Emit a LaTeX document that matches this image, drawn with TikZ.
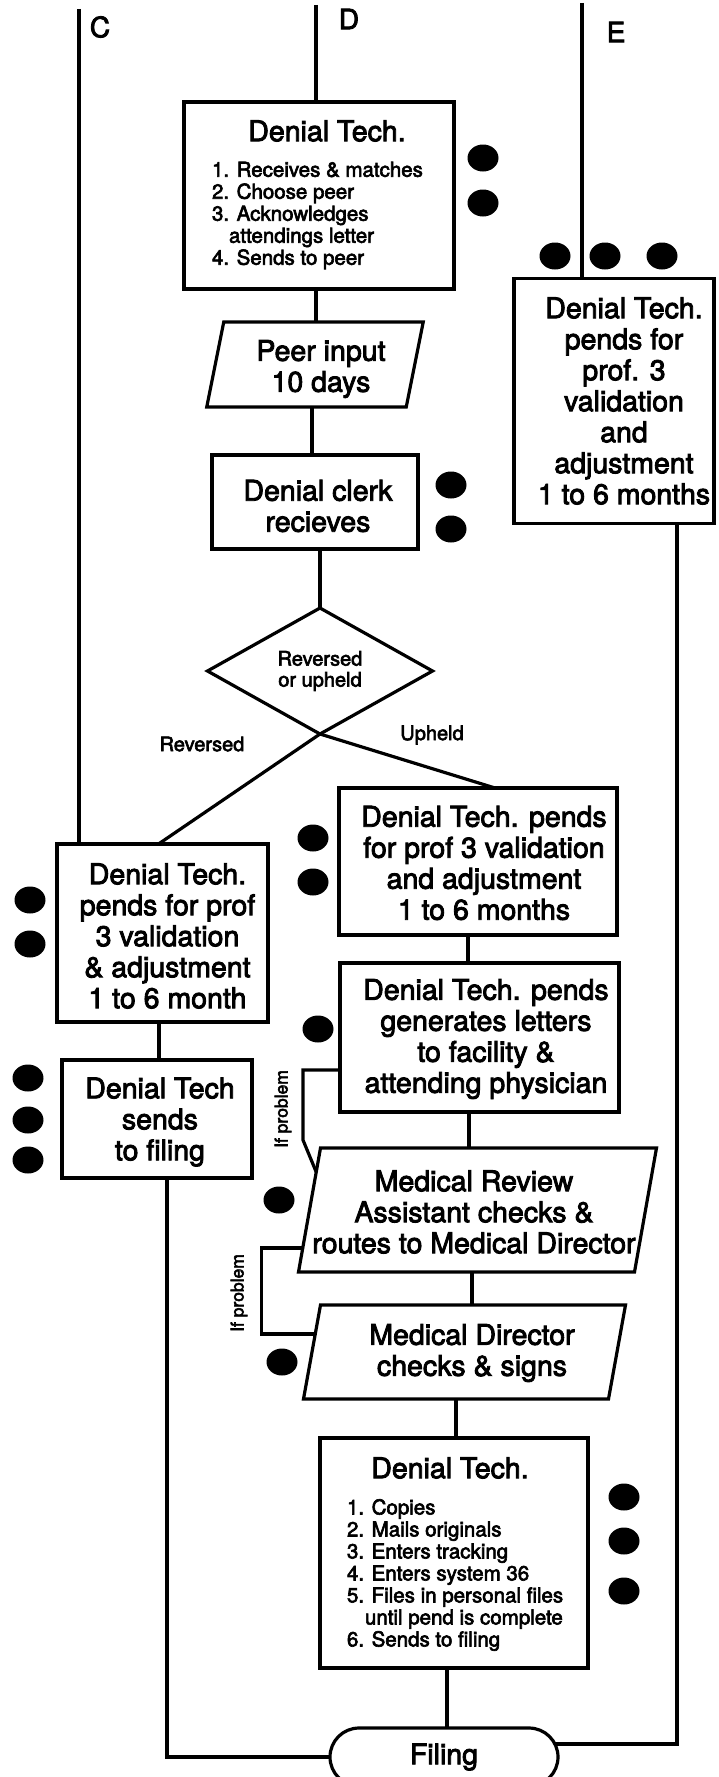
\documentclass[tikz,border=0pt]{standalone}
\usepackage{fontspec}
\setmainfont{TeX Gyre Heros}
\newfontfamily\heavy[FakeBold=3]{TeX Gyre Heros}
\usetikzlibrary{shapes.geometric,calc}

\begin{document}
\begin{tikzpicture}[x=1pt,y=-1pt,
  line width=3.2pt,
  every node/.style={inner sep=0pt, outer sep=0pt},
  stepbox/.style={draw, rectangle},
  ghost/.style={rectangle, draw=none},
  txt/.style={align=center, font=\heavy\fontsize{28.5}{31}\selectfont},
  listtxt/.style={align=left, font=\heavy\fontsize{20.5}{22}\selectfont},
  small/.style={align=center, font=\heavy\fontsize{20}{21}\selectfont},
  sidelabel/.style={font=\heavy\fontsize{17.5}{18}\selectfont, rotate=90},
  lane/.style={font=\heavy\fontsize{28}{30}\selectfont},
  dot/.style={ellipse, fill=black, draw=none, minimum width=31pt, minimum height=27pt},
]
\fill[white] (0,0) rectangle (719,1777);
\useasboundingbox (0,0) rectangle (719,1777);

% ---- swim-lane lines and letters
\coordinate (Ctop) at (79,9);
\coordinate (Dtop) at (316,5);
\coordinate (Etop) at (582,3);
\node[lane] (labC) at (100,27) {C};
\node[lane] (labD) at (349,19) {D};
\node[lane] (labE) at (616,32) {E};

% ---- first Denial Tech. box
\node[stepbox, minimum width=270pt, minimum height=187pt] (tech1) at (319,195.5) {};
\node[txt] (tech1title) at (327,131) {Denial Tech.};
\node[listtxt, anchor=west] (tech1list) at (212,215.5)
  {1. Receives \& matches\\2. Choose peer\\3. Acknowledges\\\hspace*{17pt}attendings letter\\4. Sends to peer};

% ---- lane E box
\node[stepbox, minimum width=200pt, minimum height=245pt] (ebox) at (614,401) {};
\node[txt] (eboxtext) at (624,401)
  {Denial Tech.\\pends for\\prof. 3\\validation\\and\\adjustment\\1 to 6 months};

% ---- peer input (parallelogram)
\node[ghost, minimum width=199.5pt, minimum height=85pt] (peer) at (315,364.5) {};
\coordinate (peerTL) at ($(peer.north west)+(8.5,0)$);
\coordinate (peerTR) at ($(peer.north east)+(8.5,0)$);
\coordinate (peerBR) at ($(peer.south east)+(-8.5,0)$);
\coordinate (peerBL) at ($(peer.south west)+(-8.5,0)$);
\draw (peerTL) -- (peerTR) -- (peerBR) -- (peerBL) -- cycle;
\node[txt] (peertext) at (321,369) {Peer input\\10 days};

% ---- denial clerk
\node[stepbox, minimum width=206pt, minimum height=94pt] (clerk) at (315,502) {};
\node[txt] (clerktext) at (318,506) {Denial clerk\\recieves};

% ---- decision
\node[diamond, draw, aspect=1.78, minimum width=225pt, minimum height=126pt, small]
  (dec) at (320,671) {Reversed\\or upheld};
\node[small] (revlab) at (202,744) {Reversed};
\node[small] (uplab) at (432,735) {Upheld};

% ---- reversed branch
\node[stepbox, minimum width=211pt, minimum height=178pt] (lbox) at (162.5,933) {};
\node[txt] (lboxtext) at (167.5,936)
  {Denial Tech.\\pends for prof\\3 validation\\\& adjustment\\1 to 6 month};
\node[stepbox, minimum width=190pt, minimum height=118pt] (sends) at (157,1119) {};
\node[txt] (sendstext) at (160,1122) {Denial Tech\\sends\\to filing};

% ---- upheld branch
\node[stepbox, minimum width=278pt, minimum height=147pt] (up) at (478,861.5) {};
\node[txt] (uptext) at (484,863)
  {Denial Tech. pends\\for prof 3 validation\\and adjustment\\1 to 6 months};
\node[stepbox, minimum width=279pt, minimum height=149pt] (gen) at (479.5,1037.5) {};
\node[txt] (gentext) at (486,1039)
  {Denial Tech. pends\\generates letters\\to facility \&\\attending physician};

% ---- medical review (parallelogram)
\node[ghost, minimum width=336pt, minimum height=124pt] (mr) at (477.5,1210) {};
\coordinate (mrTL) at ($(mr.north west)+(11,0)$);
\coordinate (mrTR) at ($(mr.north east)+(11,0)$);
\coordinate (mrBR) at ($(mr.south east)+(-11,0)$);
\coordinate (mrBL) at ($(mr.south west)+(-11,0)$);
\draw (mrTL) -- (mrTR) -- (mrBR) -- (mrBL) -- cycle;
\node[txt] (mrtext) at (474,1212)
  {Medical Review\\Assistant checks \&\\routes to Medical Director};

% ---- medical director (parallelogram)
\node[ghost, minimum width=305pt, minimum height=94pt] (md) at (464.5,1352) {};
\coordinate (mdTL) at ($(md.north west)+(8.5,0)$);
\coordinate (mdTR) at ($(md.north east)+(8.5,0)$);
\coordinate (mdBR) at ($(md.south east)+(-8.5,0)$);
\coordinate (mdBL) at ($(md.south west)+(-8.5,0)$);
\draw (mdTL) -- (mdTR) -- (mdBR) -- (mdBL) -- cycle;
\node[txt] (mdtext) at (472,1353) {Medical Director\\checks \& signs};

% ---- last Denial Tech. box
\node[stepbox, minimum width=268pt, minimum height=230pt] (tech2) at (454,1553) {};
\node[txt] (tech2title) at (450,1468) {Denial Tech.};
\node[listtxt, anchor=west] (tech2list) at (347,1575)
  {1. Copies\\2. Mails originals\\3. Enters tracking\\4. Enters system 36\\5. Files in personal files\\\hspace*{18pt}until pend is complete\\6. Sends to filing};

% ---- terminator
\node[draw, rounded corners=29pt, minimum width=228pt, minimum height=58pt, txt]
  (filing) at (444,1757) {Filing};

% ---- connectors
\draw (Ctop) -- (Ctop |- lbox.north);
\draw (Dtop) -- (Dtop |- tech1.north);
\draw (Etop) -- (Etop |- ebox.north);
\draw (tech1.south -| Dtop) -- (peer.north -| Dtop);
\draw ([xshift=-3pt]peer.south) -- ([xshift=-3pt]peer.south |- clerk.north);
\draw (clerk.south -| dec.north) -- (dec.north);
\draw (dec.south) -- ([xshift=-4pt]lbox.north);
\draw (dec.south) -- ([xshift=17pt]up.north);
\draw ([xshift=-3.5pt]lbox.south) -- ([xshift=-3.5pt]lbox.south |- sends.north);
\draw ([xshift=10pt]sends.south) |- (filing.west);
\draw ([xshift=63pt]ebox.south) |- ($(filing.east)+(-3,-13)$);
\draw ([xshift=-10pt]up.south) -- ([xshift=-10pt]up.south |- gen.north);
\draw ([xshift=-10.5pt]gen.south) -- ([xshift=-10.5pt]gen.south |- mr.north);
\draw ([xshift=-5.5pt]mr.south) -- ([xshift=-5.5pt]mr.south |- md.north);
\draw ([xshift=-8.5pt]md.south) -- ([xshift=-8.5pt]md.south |- tech2.north);
\draw ([xshift=-7pt]tech2.south) -- ([xshift=-7pt]tech2.south |- filing.north);

% ---- "If problem" return paths
\coordinate (genfb) at ($(gen.west)+(0,32.5)$);
\coordinate (mrfbin) at ($(mrTL)!0.194!(mrBL)$);
\coordinate (mrfbout) at ($(mrTL)!0.806!(mrBL)$);
\coordinate (mdfbin) at ($(mdTL)!0.309!(mdBL)$);
\draw (genfb) -- ++(-37,0) -- ++(0,70) -- (mrfbin);
\draw (mrfbout) -- ++(-41.5,0) |- (mdfbin);
\node[sidelabel] (ifp1) at (283,1109) {If problem};
\node[sidelabel] (ifp2) at (239,1293) {If problem};

% ---- bullets
\foreach \n/\p in {b1/{(483,158)}, b2/{(483,203)},
                   e1/{(555,256)}, e2/{(605,256)}, e3/{(662,256)},
                   c1/{(451,485)}, c2/{(451,529)},
                   u1/{(313,838)}, u2/{(313,882)},
                   l1/{(30,900)}, l2/{(30,944)},
                   g1/{(318,1029)},
                   s1/{(28,1078)}, s2/{(28,1120)}, s3/{(28,1160)},
                   r1/{(279,1200)}, m1/{(282,1362)},
                   t1/{(624,1497)}, t2/{(624,1541)}, t3/{(624,1591)}}
  \node[dot] (dot\n) at \p {};
\end{tikzpicture}
\end{document}
